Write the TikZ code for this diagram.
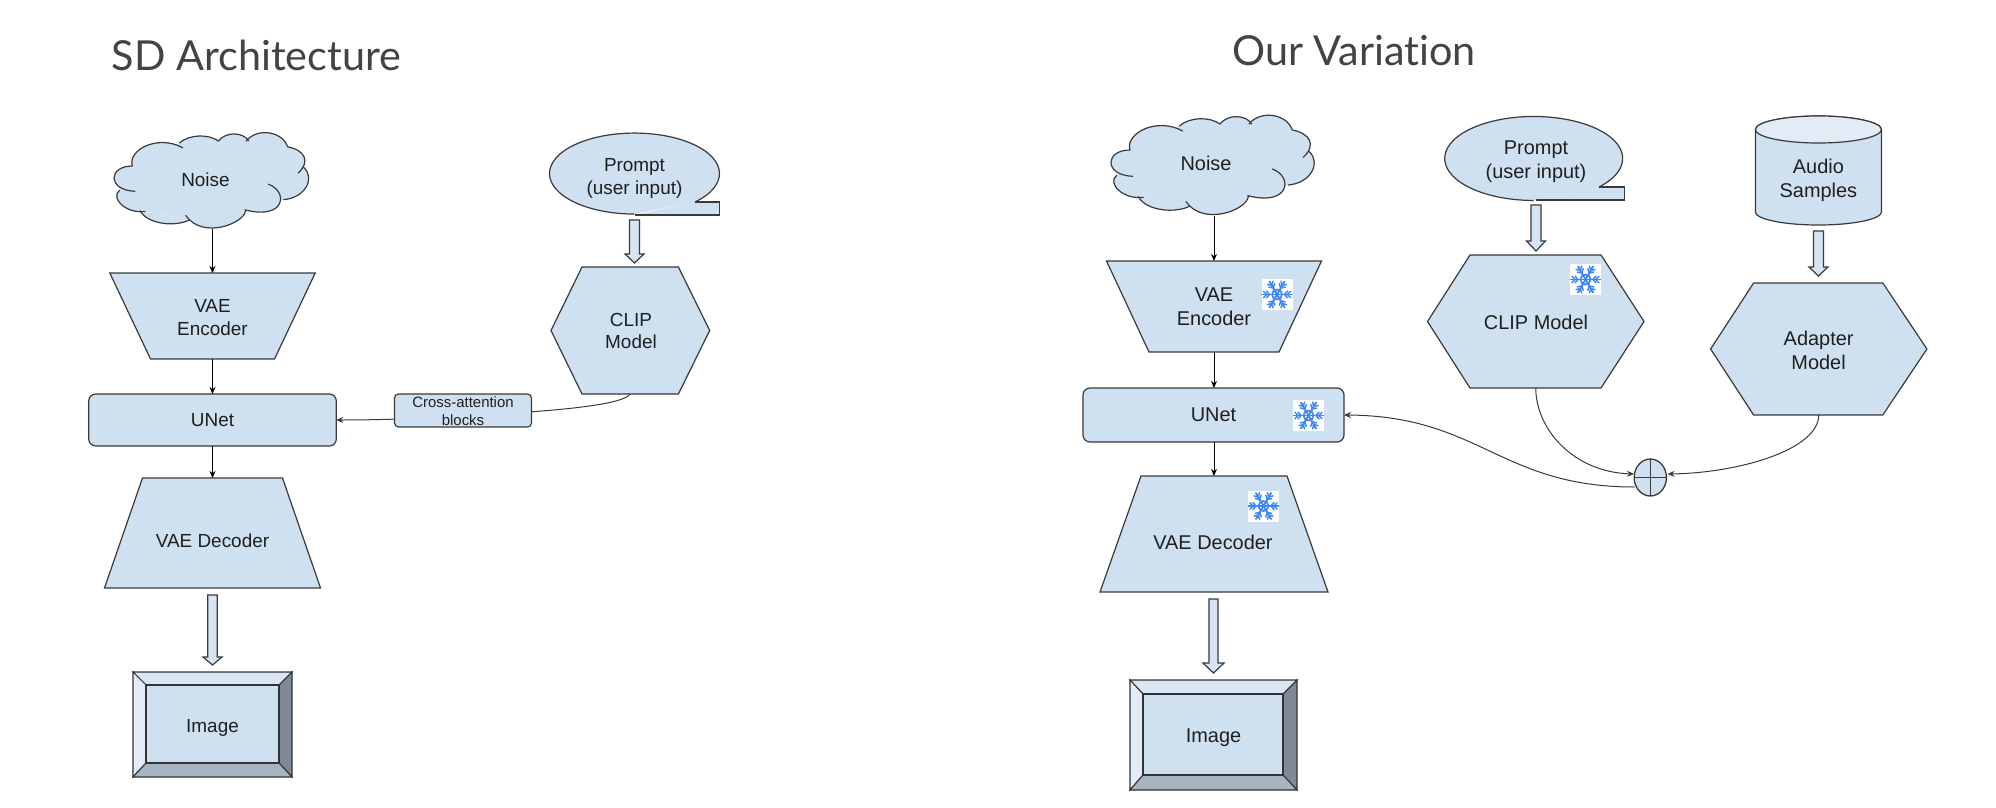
\documentclass[tikz,border=0pt]{standalone}
\usepackage{fontspec}
\setmainfont{Liberation Sans}
\newfontfamily\titlefont[Ligatures=CommonOff]{Lato}
\usetikzlibrary{arrows.meta,shapes.geometric}
\definecolor{boxfill}{HTML}{CFE0F1}
\definecolor{arrfill}{HTML}{D6E4F3}
\definecolor{edgecol}{HTML}{3A3A3A}
\definecolor{snowblue}{HTML}{3F87F5}
\definecolor{bevtop}{HTML}{D9E6F3}
\definecolor{bevleft}{HTML}{E2EBF6}
\definecolor{bevright}{HTML}{7F8A96}
\definecolor{bevbottom}{HTML}{A6B3C1}
\definecolor{cyltop}{HTML}{E3ECF6}
\definecolor{titlecol}{HTML}{434343}
\tikzset{
  x=1bp,y=-1bp,
  shapeline/.style={draw=edgecol,line width=1.2bp,fill=boxfill,line join=miter},
  txt/.style={text=black!88,align=center,inner sep=0pt,font=\fontsize{19}{23}\selectfont},
  txtb/.style={text=black!88,align=center,inner sep=0pt,font=\fontsize{20}{24}\selectfont},
  titletxt/.style={text=titlecol,inner sep=0pt,font=\titlefont\fontsize{41.5}{48}\selectfont},
  flow/.style={draw=black,line width=1bp,-{Stealth[length=7bp,width=6bp]}},
  thin flow/.style={draw=edgecol,line width=1bp,-{Stealth[length=7bp,width=6bp]}},
  roundbox/.style={draw=edgecol,line width=1.2bp,fill=boxfill,rounded corners=7bp,inner sep=0pt,outer sep=0pt},
  blockarrow/.style={draw=edgecol,line width=1.2bp,fill=arrfill,line join=miter},
}
% trapezium: cx, ytop, ybot, top half width, bottom half width
\newcommand{\trap}[6]{%
  \path[shapeline] (#1-#4,#2) -- (#1+#4,#2) -- (#1+#5,#3) -- (#1-#5,#3) -- cycle;
  \node[inner sep=0pt,outer sep=0pt,minimum width={2*max(#4,#5)*1bp},minimum height={(#3-#2)*1bp}] (#6) at (#1,{(#2+#3)/2}) {};}
% hexagon: xl, xtl, xtr, xr, ytop, ybot, name
\newcommand{\hexa}[7]{%
  \path[shapeline] (#1,{(#5+#6)/2}) -- (#2,#5) -- (#3,#5) -- (#4,{(#5+#6)/2}) -- (#3,#6) -- (#2,#6) -- cycle;
  \node[inner sep=0pt,outer sep=0pt,minimum width={(#4-#1)*1bp},minimum height={(#6-#5)*1bp}] (#7) at ({(#1+#4)/2},{(#5+#6)/2}) {};}
% block arrow: cx, ytop, ybase, ytip, half shaft, half head
\newcommand{\blockarr}[6]{%
  \path[blockarrow] (#1-#5,#2) -- (#1+#5,#2) -- (#1+#5,#3) -- (#1+#6,#3) -- (#1,#4) -- (#1-#6,#3) -- (#1-#5,#3) -- cycle;}
% bevel: xl,xr,yt,yb, ixl,ixr,iyt,iyb
\newcommand{\bevel}[9]{%
  \begin{scope}[draw=black!80,line width=1.05bp,line join=miter]
  \path[draw,fill=bevtop] (#1,#3) -- (#2,#3) -- (#6,#7) -- (#5,#7) -- cycle;
  \path[draw,fill=bevleft] (#1,#3) -- (#5,#7) -- (#5,#8) -- (#1,#4) -- cycle;
  \path[draw,fill=bevright] (#2,#3) -- (#6,#7) -- (#6,#8) -- (#2,#4) -- cycle;
  \path[draw,fill=bevbottom] (#1,#4) -- (#5,#8) -- (#6,#8) -- (#2,#4) -- cycle;
  \path[draw,fill=boxfill] (#5,#7) rectangle (#6,#8);
  \end{scope}
  \node[inner sep=0pt,outer sep=0pt,minimum width={(#2-#1)*1bp},minimum height={(#4-#3)*1bp}] (#9) at ({(#1+#2)/2},{(#3+#4)/2}) {};}
% cloud, local coords from a 3x crop
\newcommand{\cloudshape}{%
  \fill[boxfill] (210,150) -- (358,78) -- (480,72) -- (567,72) -- (697,90) -- (748,155) -- (685,255) -- (563,290) -- (390,318) -- (250,292) -- (170,226) -- cycle;
  \path[fill=boxfill] (210,150) .. controls (195,100) and (290,50) .. (368,93);
  \path[fill=boxfill] (358,78) .. controls (390,50) and (450,50) .. (480,72);
  \path[fill=boxfill] (480,72) .. controls (505,40) and (560,45) .. (575,72);
  \path[fill=boxfill] (567,72) .. controls (600,30) and (680,40) .. (697,90);
  \path[fill=boxfill] (697,90) .. controls (750,100) and (770,135) .. (730,172);
  \path[fill=boxfill] (748,155) .. controls (785,190) and (750,250) .. (685,255);
  \path[fill=boxfill] (637,207) .. controls (700,230) and (690,320) .. (563,287);
  \path[fill=boxfill] (565,290) .. controls (560,330) and (430,380) .. (378,305);
  \path[fill=boxfill] (390,318) .. controls (350,340) and (260,335) .. (235,290);
  \path[fill=boxfill] (250,292) .. controls (190,300) and (140,250) .. (170,226);
  \path[fill=boxfill] (218,229) .. controls (130,225) and (135,150) .. (210,150);
  \draw[edgecol,line width=1.2bp,line cap=round]
   (210,150) .. controls (195,100) and (290,50) .. (368,93)
   (358,78) .. controls (390,50) and (450,50) .. (480,72)
   (480,72) .. controls (505,40) and (560,45) .. (575,72)
   (567,72) .. controls (600,30) and (680,40) .. (697,90)
   (697,90) .. controls (750,100) and (770,135) .. (730,172)
   (748,155) .. controls (785,190) and (750,250) .. (685,255)
   (637,207) .. controls (700,230) and (690,320) .. (563,287)
   (565,290) .. controls (560,330) and (430,380) .. (378,305)
   (390,318) .. controls (350,340) and (260,335) .. (235,290)
   (250,292) .. controls (190,300) and (140,250) .. (170,226)
   (218,229) .. controls (130,225) and (135,150) .. (210,150);}
% snowflake
\newcommand{\snow}[2]{%
  \begin{scope}[shift={(#1,#2)}]
  \fill[white] (-15.5,-15.5) rectangle (15.5,15.5);
  \draw[snowblue,line width=1.7bp] (0,0) circle[radius=5];
  \foreach \a in {0,60,...,300}{
    \begin{scope}[rotate=\a]
    \draw[snowblue,line width=1.9bp,line cap=round] (0,0) -- (15,0);
    \draw[snowblue,line width=1.5bp,line cap=round] (7.5,0) -- (10.5,3.4) (7.5,0) -- (10.5,-3.4) (10.5,0) -- (13.5,3.2) (10.5,0) -- (13.5,-3.2);
    \end{scope}}
  \end{scope}}
\begin{document}
\begin{tikzpicture}
\useasboundingbox (0,0) rectangle (1996,808);
\fill[white] (0,0) rectangle (1996,808);
% titles
\node[titletxt,anchor=center] (titleL) at (256.5,55) {SD Architecture};
\node[titletxt,anchor=center] (titleR) at (1354,51) {Our Variation};

% ===== left =====
\begin{scope}[shift={(65.3,118)},x=0.319bp,y=-0.32bp]\cloudshape\end{scope}
\node[inner sep=0pt,outer sep=0pt,minimum width=197bp,minimum height=96bp] (cloudL) at (212.5,181) {};
\node[txt] (cloudLt) at (205.5,180) {Noise};
\trap{212.5}{273}{359}{102.7}{62}{encL}
\node[txt] (encLt) at (212.5,317.5) {VAE\\Encoder};
\node[roundbox,minimum width=247.6bp,minimum height=52bp,txt] (unetL) at (212.5,420) {UNet};
\trap{212.5}{478}{588}{70}{108}{decL}
\node[txt] (decLt) at (212.5,541) {VAE Decoder};
\blockarr{212.5}{595}{657}{665}{4.7}{9.5}
\bevel{133}{292}{672}{777}{146}{279}{685}{763}{imgL}
\node[txt] (imgLt) at (212.5,728) {Image};
\path[shapeline] (695,202) arc[start angle=44.6,end angle=-270,x radius=85,y radius=40.5];
\path[fill=boxfill] (634.6,215) -- (719.6,215) -- (719.6,202) -- (695,202) -- cycle;
\draw[edgecol,line width=1.2bp,line join=miter] (634.6,215) -- (719.6,215) -- (719.6,202) -- (695,202);
\node[inner sep=0pt,outer sep=0pt,minimum width=170bp,minimum height=81bp] (promptL) at (634.6,174.5) {};
\node[txt] (promptLt) at (634.5,178) {Prompt\\(user input)};
\blockarr{634.5}{220}{254}{263}{5}{9.5}
\hexa{551}{582}{678.4}{709.7}{267}{394}{clipL}
\node[txt] (clipLt) at (631,331) {CLIP\\Model};
\draw[thin flow] (clipL.south) .. controls (622,405) and (560,411) .. (463,416) .. controls (420,418.5) and (380,420) .. (unetL.east);
\node[roundbox,rounded corners=4bp,minimum width=137bp,minimum height=33bp] (cross) at (463,410.5) {};
\node[text=black!88,align=center,inner sep=0pt,font=\fontsize{15}{18}\selectfont] (crosst) at (463,411.5) {Cross-attention\\[0pt]blocks};
\draw[flow] (cloudL.south) -- (encL.north);
\draw[flow] (encL.south) -- (unetL.north -| encL.south);
\draw[flow] (unetL.south -| encL.south) -- (decL.north);

% ===== right =====
\begin{scope}[shift={(1060,100)},x=0.3333bp,y=-0.3333bp]\cloudshape\end{scope}
\node[inner sep=0pt,outer sep=0pt,minimum width=206bp,minimum height=100bp] (cloudR) at (1214,166) {};
\node[txtb] (cloudRt) at (1206,163) {Noise};
\trap{1214}{261}{352}{107.5}{65}{encR}
\node[txtb] (encRt) at (1214,307) {VAE\\Encoder};
\node[roundbox,minimum width=261bp,minimum height=54bp,txtb] (unetR) at (1213.5,415) {UNet};
\trap{1214}{476}{592}{73}{114}{decR}
\node[txtb] (decRt) at (1213,542) {VAE Decoder};
\blockarr{1213.5}{599}{663}{673}{4.5}{10.5}
\bevel{1130}{1297}{680}{790}{1143}{1283}{694}{775}{imgR}
\node[txtb] (imgRt) at (1213.5,738) {Image};
\path[shapeline] (1599,187) arc[start angle=42.8,end angle=-270,x radius=89,y radius=42];
\path[fill=boxfill] (1535.5,200) -- (1624.5,200) -- (1624.5,187) -- (1599,187) -- cycle;
\draw[edgecol,line width=1.2bp,line join=miter] (1535.5,200) -- (1624.5,200) -- (1624.5,187) -- (1599,187);
\node[inner sep=0pt,outer sep=0pt,minimum width=178bp,minimum height=84bp] (promptR) at (1535.5,158) {};
\node[txtb] (promptRt) at (1536,161.5) {Prompt\\(user input)};
\blockarr{1536}{205}{241}{251}{5}{9.5}
\hexa{1427.5}{1470}{1601}{1644}{255}{388}{clipR}
\node[txtb] (clipRt) at (1536,322) {CLIP Model};
% cylinder
\path[shapeline] (1755.4,129.5) -- (1755.4,212) arc[start angle=180,end angle=0,x radius=63,y radius=13] -- (1881.4,129.5) arc[start angle=0,end angle=-180,x radius=63,y radius=13.5] -- cycle;
\path[shapeline,fill=cyltop] (1818.4,129.5) ellipse[x radius=63,y radius=13.5];
\node[inner sep=0pt,outer sep=0pt,minimum width=126bp,minimum height=109bp] (audio) at (1818.4,170.5) {};
\node[txtb] (audiot) at (1818.4,180) {Audio\\Samples};
\blockarr{1818.4}{231}{267}{276}{5}{9.5}
\hexa{1710.6}{1753.6}{1882.8}{1926.9}{283}{415}{adapter}
\node[txtb] (adaptert) at (1818.6,350) {Adapter\\Model};
% sum junction
\node[draw=edgecol,line width=1.3bp,fill=boxfill,ellipse,inner sep=0pt,outer sep=0pt,minimum width=32.3bp,minimum height=37bp] (sumj) at (1650.3,477.5) {};
\draw[edgecol,line width=1.2bp] (sumj.west) -- (sumj.east) (sumj.north) -- (sumj.south);
\coordinate (sumin) at (1634,474);
\coordinate (sumin2) at (1667.5,474);
\coordinate (sumout) at (1634.5,487);
\draw[thin flow] (clipR.south) .. controls (1536,430) and (1574,472) .. (sumin);
\draw[thin flow] (adapter.south) .. controls (1818.6,450) and (1738,473) .. (sumin2);
\draw[thin flow] (sumout) .. controls (1500,487) and (1480,416) .. (unetR.east);
\draw[flow] (cloudR.south) -- (encR.north);
\draw[flow] (encR.south) -- (unetR.north -| encR.south);
\draw[flow] (unetR.south -| encR.south) -- (decR.north);
\snow{1277}{294.5}
\snow{1308.5}{415.5}
\snow{1263.5}{506}
\snow{1585.5}{279.5}
\end{tikzpicture}
\end{document}
